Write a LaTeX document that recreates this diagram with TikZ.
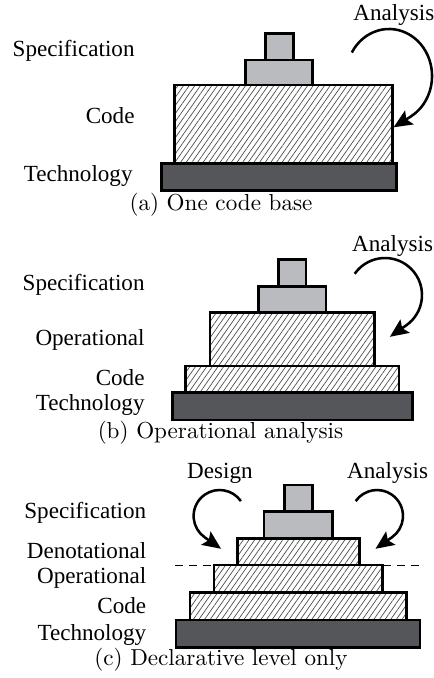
\documentclass[tikz,border=0pt]{standalone}
\usepackage{fontspec}
\newfontfamily\labelfont{Liberation Serif}
\usetikzlibrary{arrows.meta,patterns.meta}
\definecolor{specgray}{RGB}{186,187,191}
\definecolor{techgray}{RGB}{84,86,89}

\begin{document}
\begin{tikzpicture}[x=0.4329pt,y=0.4329pt,
        layer/.style={draw=black,line width=1.1pt},
        spec/.style={layer,fill=specgray},
        hatched/.style={layer,pattern={Lines[angle=55,distance=2pt,line width=0.3pt]},pattern color=black!70},
        tech/.style={layer,fill=techgray},
        lbl/.style={anchor=base east,inner sep=0pt,font=\labelfont},
        top lbl/.style={anchor=base west,inner sep=0pt,font=\labelfont},
        subcap/.style={anchor=base,inner sep=0pt,font=\fontsize{10}{12}\selectfont},
        turn/.style={line width=1.1pt,-{Stealth[length=8pt,width=7pt,inset=1.5pt]}}]
        \useasboundingbox (0,0) rectangle (433,-678);

        % (a) one code base
        \draw[tech] (161.7,-163.3) rectangle (396.7,-190.7);
        \draw[hatched] (174.3,-85) rectangle (392.3,-163.3);
        \draw[spec] (245.7,-60) rectangle (312.3,-85);
        \draw[spec] (265.7,-33.3) rectangle (293.3,-60);
        \node[lbl] (a-spec) at (135,-57) {Specification};
        \node[lbl] (a-code) at (135,-123.6) {Code};
        \node[lbl] (a-tech) at (133,-182) {Technology};
        \node[top lbl] (a-analysis) at (353,-20.3) {Analysis};
        \coordinate (a-turn) at (351.8,-52.5);
        \draw[turn] (a-turn) arc[start angle=150,end angle=-60,x radius=43,y radius=47] -- ++(212:20);
        \node[subcap] (a-cap) at (221,-211) {(a) One code base};

        % (b) operational analysis
        \draw[tech] (172.3,-392.7) rectangle (412.3,-420);
        \draw[hatched] (185.7,-366) rectangle (399,-392.7);
        \draw[hatched] (210,-312.3) rectangle (374.3,-366);
        \draw[spec] (258.3,-286.7) rectangle (326,-312.3);
        \draw[spec] (278.3,-259.3) rectangle (306,-286.7);
        \node[lbl] (b-spec) at (145,-290.3) {Specification};
        \node[lbl] (b-oper) at (145,-345.3) {Operational};
        \node[lbl] (b-code) at (145,-385.3) {Code};
        \node[lbl] (b-tech) at (145,-410.3) {Technology};
        \node[top lbl] (b-analysis) at (351.7,-251.3) {Analysis};
        \coordinate (b-turn) at (354.7,-273.8);
        \draw[turn] (b-turn) arc[start angle=145,end angle=-55,radius=37] -- ++(215:20);
        \node[subcap] (b-cap) at (220.5,-438) {(b) Operational analysis};

        % (c) declarative level only
        \coordinate (dash-l) at (175,-565.7);
        \coordinate (dash-r) at (421.7,-565.7);
        \draw[dashed,line width=0.6pt,dash pattern=on 3.5pt off 2.5pt] (dash-l) -- (dash-r);
        \draw[tech] (176,-620) rectangle (420,-647.7);
        \draw[hatched] (190,-592.3) rectangle (406.7,-620);
        \draw[hatched] (214,-565) rectangle (382.7,-592.3);
        \draw[hatched] (237.3,-538.3) rectangle (359.3,-565);
        \draw[spec] (264,-511.7) rectangle (332.7,-538.3);
        \draw[spec] (284.3,-485) rectangle (312.7,-511.7);
        \node[lbl] (c-spec) at (146.7,-518.6) {Specification};
        \node[lbl] (c-deno) at (146.7,-558.6) {Denotational};
        \node[lbl] (c-oper) at (146.7,-583.6) {Operational};
        \node[lbl] (c-code) at (146.7,-613.6) {Code};
        \node[lbl] (c-tech) at (146.7,-640.3) {Technology};
        \node[top lbl] (c-design) at (186.7,-478) {Design};
        \node[top lbl] (c-analysis) at (346.7,-478) {Analysis};
        \coordinate (c-design-turn) at (240.9,-501.1);
        \coordinate (c-analysis-turn) at (355.7,-501.1);
        \draw[turn] (c-design-turn) arc[start angle=35,end angle=235,radius=26] -- ++(325:20);
        \draw[turn] (c-analysis-turn) arc[start angle=145,end angle=-55,radius=26] -- ++(215:20);
        \node[subcap] (c-cap) at (221,-665) {(c) Declarative level only};
\end{tikzpicture}
\end{document}
